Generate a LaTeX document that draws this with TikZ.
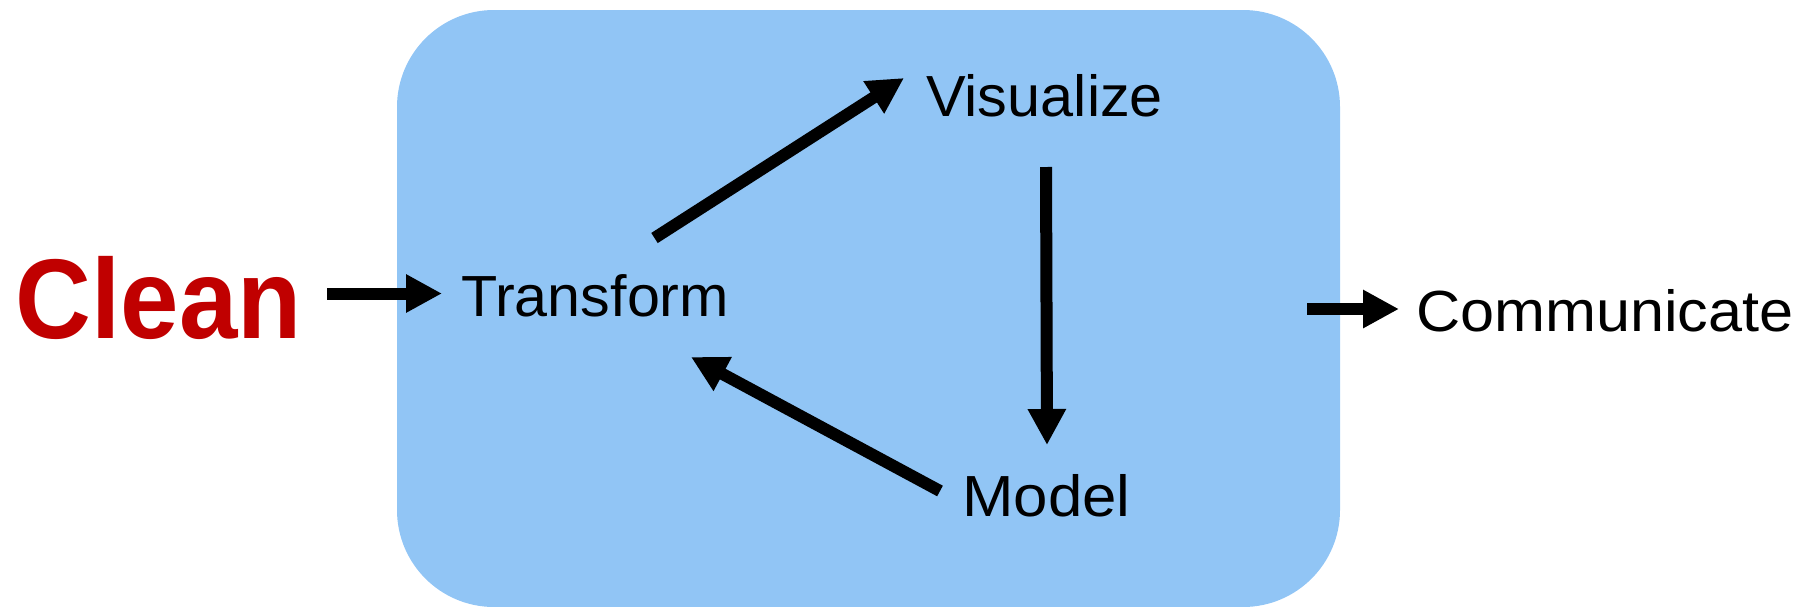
\documentclass[tikz,border=0pt]{standalone}
\usepackage{fontspec}
\setmainfont{Liberation Sans}
\usetikzlibrary{arrows.meta}
\definecolor{boxblue}{RGB}{145,197,245}
\definecolor{cleanred}{RGB}{192,0,0}
\newcommand\hstretch[2]{\scalebox{#1}[1]{#2}}
\tikzset{
  lbl/.style={anchor=base west, inner sep=0pt, font=\fontsize{58}{70}\selectfont, text=black},
  flow/.style={line width=12pt, -{Triangle[length=36pt,width=36pt]}}
}
\begin{document}
\begin{tikzpicture}[x=1pt,y=-1pt]
\useasboundingbox (0,0) rectangle (1804,606);
\fill[boxblue, rounded corners=97pt] (397,10) rectangle (1340,607);
\node[anchor=base west, inner sep=0pt, text=cleanred, font=\fontsize{105}{120}\selectfont\bfseries] (Clean) at (15.5,338) {\scalebox{1}[1.08]{Clean}};
\node[lbl] (Transform) at (461,316) {\hstretch{1.022}{Transform}};
\node[lbl] (Visualize) at (926,116) {\hstretch{1.025}{Visualize}};
\node[lbl] (Model) at (962,516) {\hstretch{1.065}{Model}};
\node[lbl] (Communicate) at (1416,331) {\hstretch{1.055}{Communicate}};
\coordinate (a1s) at (327,293.5);
\coordinate (a1e) at (442,293.5);
\coordinate (a2s) at (654.5,238);
\coordinate (a2e) at (904,78);
\coordinate (a3s) at (1046,167);
\coordinate (a3e) at (1047,445);
\coordinate (a4s) at (940,491);
\coordinate (a4e) at (691,357);
\coordinate (a5s) at (1307,309);
\coordinate (a5e) at (1399,309);
\draw[flow] (a1s) -- (a1e);
\draw[flow] (a2s) -- (a2e);
\draw[flow] (a3s) -- (a3e);
\draw[flow] (a4s) -- (a4e);
\draw[flow] (a5s) -- (a5e);
\end{tikzpicture}
\end{document}
